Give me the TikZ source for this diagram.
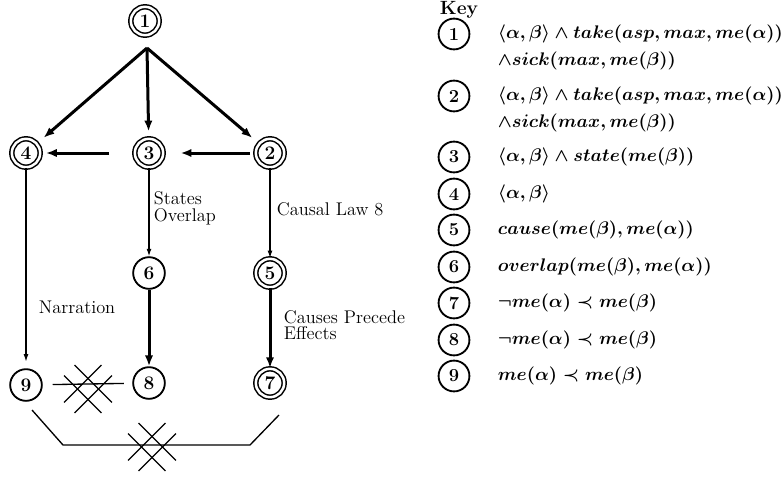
\documentclass[tikz,border=0pt]{standalone}
\usetikzlibrary{calc, arrows.meta, positioning}
\tikzset{basic/.style={draw, circle, inner sep=0pt, font=\fontsize{11.5}{11.5}\selectfont\bfseries}}
\tikzset{plain/.style={basic, line width=1.1pt, minimum size=19pt}}
\tikzset{final/.style={basic, line width=0.9pt, double, double distance=1.5pt, minimum size=17pt}}
\tikzset{keycirc/.style={basic, line width=1.1pt, minimum size=18.5pt, font=\fontsize{11}{11}\selectfont\bfseries}}
\tikzset{thickarr/.style={-{Latex[length=6.5pt, width=5pt]}, line width=1.8pt}}
\tikzset{thinarr/.style={-{Latex[length=4.5pt, width=3pt]}, line width=0.7pt}}
\tikzset{formula/.style={font=\fontsize{10.7}{11}\selectfont\boldmath}}
\tikzset{nocross/.pic={
    \draw[line width=0.75pt] (-13.4,-24) -- (24,13.4);
    \draw[line width=0.75pt] (-24,-13.4) -- (13.4,24);
    \draw[line width=0.75pt] (-13.4,24) -- (24,-13.4);
    \draw[line width=0.75pt] (-24,13.4) -- (13.4,-24);
}}

\begin{document}
\begin{tikzpicture}[x=0.6pt, y=-0.6pt, font=\fontsize{11}{10}\selectfont]
    \useasboundingbox (0,0) rectangle (781,478);

    % graph
    \node[final] (n1) at (145,21) {1};
    \node[final] (n4) at (26,153) {4};
    \node[final] (n3) at (149,153) {3};
    \node[final] (n2) at (270,153) {2};
    \node[plain] (n6) at (149,273) {6};
    \node[final] (n5) at (270,273) {5};
    \node[plain] (n9) at (26,385) {9};
    \node[plain] (n8) at (149,383) {8};
    \node[final] (n7) at (270,383) {7};

    \coordinate (fork) at (147,48);
    \draw[thickarr, shorten >=5pt] (fork) -- (n4);
    \draw[thickarr, shorten >=4pt] (fork) -- (n3);
    \draw[thickarr, shorten >=5pt] (fork) -- (n2);
    \draw[thickarr, shorten <=3pt, shorten >=10pt] (n2) -- (n3);
    \draw[thickarr, shorten <=15pt, shorten >=3pt] (n3) -- (n4);

    \draw[thinarr, shorten >=4pt] (n4) -- (n9);
    \draw[thinarr] (n3) -- (n6);
    \draw[thinarr] (n2) -- (n5);
    \draw[thickarr] (n6) -- (n8);
    \draw[thickarr] (n5) -- (n7);

    \node[anchor=west] (narr) at (33,307) {Narration};
    \node[anchor=west, align=left] (sov) at (148,208) {States\\Overlap};
    \node[anchor=west] (claw) at (271,209) {Causal Law 8};
    \node[anchor=west, align=left] (cpe) at (278,325) {Causes Precede\\Effects};

    % ruled out orders
    \draw[line width=0.8pt, shorten <=6pt, shorten >=5pt] (n9) -- (n8);
    \pic at (88,389) {nocross};
    \coordinate (b1) at (32,410);
    \coordinate (b2) at (63,445);
    \coordinate (b3) at (250,445);
    \coordinate (b4) at (279,415);
    \draw[line width=0.8pt] (b1) -- (b2) -- (b3) -- (b4);
    \pic at (152,447) {nocross};

    % key
    \node[anchor=west, font=\fontsize{11.5}{11.5}\selectfont\bfseries] (key) at (434,10) {Key};
    \node[keycirc] (k1) at (454,34) {1};
    \node[keycirc] (k2) at (454,96) {2};
    \node[keycirc] (k3) at (454,157) {3};
    \node[keycirc] (k4) at (454,194) {4};
    \node[keycirc] (k5) at (454,230) {5};
    \node[keycirc] (k6) at (454,267) {6};
    \node[keycirc] (k7) at (454,303) {7};
    \node[keycirc] (k8) at (454,340) {8};
    \node[keycirc] (k9) at (454,376) {9};

    \node[formula, right=13pt of k1] (f1) {$\langle\alpha,\beta\rangle \wedge take(asp, max, me(\alpha))$};
    \node[formula, anchor=west] (f1b) at ($(f1.west)+(0,27)$) {$\wedge sick(max, me(\beta))$};
    \node[formula, right=13pt of k2] (f2) {$\langle\alpha,\beta\rangle \wedge take(asp, max, me(\alpha))$};
    \node[formula, anchor=west] (f2b) at ($(f2.west)+(0,27)$) {$\wedge sick(max, me(\beta))$};
    \node[formula, right=13pt of k3] (f3) {$\langle\alpha,\beta\rangle \wedge state(me(\beta))$};
    \node[formula, right=13pt of k4] (f4) {$\langle\alpha,\beta\rangle$};
    \node[formula, right=13pt of k5] (f5) {$cause(me(\beta), me(\alpha))$};
    \node[formula, right=13pt of k6] (f6) {$overlap(me(\beta), me(\alpha))$};
    \node[formula, right=13pt of k7] (f7) {$\neg me(\alpha) \prec me(\beta)$};
    \node[formula, right=13pt of k8] (f8) {$\neg me(\alpha) \prec me(\beta)$};
    \node[formula, right=13pt of k9] (f9) {$me(\alpha) \prec me(\beta)$};
\end{tikzpicture}
\end{document}
